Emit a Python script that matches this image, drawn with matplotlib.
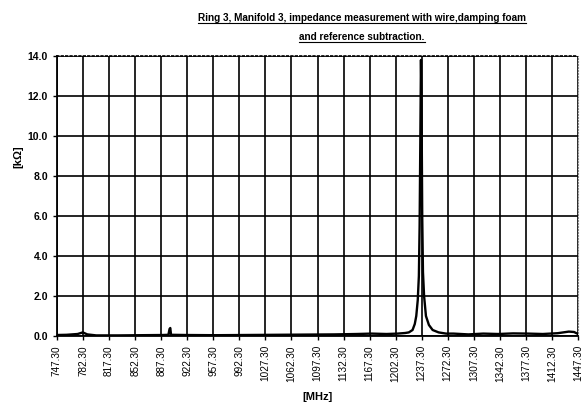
# Ring 3 / Manifold 3 impedance measurement - recreated chart

import matplotlib.pyplot as plt
from matplotlib.lines import Line2D
import numpy as np

# ----------------------------------------------------------------------
# Data
# ----------------------------------------------------------------------

freq_mhz = [747.3, 760.0, 775.0, 782.0, 788.0, 800.0, 830.0, 860.0, 890.0,
            897.0, 898.5, 899.5, 900.5, 920.0, 960.0, 1000.0, 1040.0,
            1080.0, 1120.0, 1150.0, 1170.0, 1190.0, 1205.0, 1215.0,
            1220.0, 1225.0, 1228.0, 1230.0, 1232.0, 1233.5, 1234.5,
            1235.5, 1236.3, 1237.0, 1238.0, 1239.0, 1240.5, 1243.0,
            1247.0, 1252.0, 1260.0, 1270.0, 1280.0, 1300.0, 1320.0,
            1340.0, 1360.0, 1380.0, 1400.0, 1420.0, 1435.0, 1442.0, 1447.3]
impedance_kohm = [0.05, 0.06, 0.10, 0.18, 0.08, 0.03, 0.03, 0.04, 0.05,
                  0.06, 0.35, 0.40, 0.06, 0.05, 0.04, 0.05, 0.06,
                  0.07, 0.08, 0.10, 0.12, 0.10, 0.12, 0.15,
                  0.18, 0.30, 0.60, 1.00, 1.80, 3.00, 5.50,
                  10.0, 13.8, 12.0, 6.00, 3.20, 2.00, 1.00,
                  0.55, 0.30, 0.18, 0.12, 0.12, 0.08, 0.12,
                  0.10, 0.13, 0.12, 0.10, 0.14, 0.22, 0.20, 0.10]

x_ticks = [747.3 + 35 * i for i in range(21)]
y_ticks = [0, 2, 4, 6, 8, 10, 12, 14]

title_lines = ["Ring 3, Manifold 3, impedance measurement with wire,damping foam",
               "and reference subtraction."]

# ----------------------------------------------------------------------
# Plot
# ----------------------------------------------------------------------

plt.rcParams['font.family'] = ['Liberation Sans Narrow', 'Liberation Sans', 'DejaVu Sans']

fig = plt.figure(figsize=(5.87, 4.16), dpi=100)
ax = fig.add_axes([57 / 587, 80 / 416, 521 / 587, 280 / 416])

ax.plot(freq_mhz, impedance_kohm, color='black', linewidth=1.7, zorder=3)

ax.set_xlim(747.3, 1447.3)
ax.set_ylim(0, 14)
ax.set_xticks(x_ticks)
ax.set_xticklabels(['%.2f' % t for t in x_ticks], rotation=90,
                   family=['Liberation Sans', 'DejaVu Sans'], fontsize=7.2)
ax.set_yticks(y_ticks)
ax.set_yticklabels(['%.1f' % t for t in y_ticks], fontweight='bold', fontsize=7.5)
ax.tick_params(axis='both', length=3, width=1, color='black')

ax.grid(True, color='black', linewidth=1.2, linestyle='-', zorder=1)
ax.set_axisbelow(True)

# Borders: solid left / bottom, dotted top / right
ax.spines['left'].set_linewidth(1.3)
ax.spines['bottom'].set_linewidth(1.3)
ax.spines['top'].set_linestyle(':')
ax.spines['top'].set_linewidth(1.2)
ax.spines['right'].set_linestyle(':')
ax.spines['right'].set_color('#888888')

ax.set_xlabel('[MHz]', fontsize=8, fontweight='bold')
ax.xaxis.set_label_coords(0.5, -0.20)
ax.set_ylabel('[kΩ]', fontsize=8, fontweight='bold',
              family=['Liberation Sans', 'DejaVu Sans'])
ax.yaxis.set_label_coords(-0.065, 0.64)

# Two-line underlined title
title_y = [0.950, 0.905]
texts = []
for line, ty in zip(title_lines, title_y):
    texts.append(fig.text(362 / 587, ty, line, ha='center', va='baseline',
                          fontsize=7.2, fontweight='bold'))

fig.canvas.draw()
renderer = fig.canvas.get_renderer()
for t in texts:
    bb = t.get_window_extent(renderer).transformed(fig.transFigure.inverted())
    y0 = t.get_position()[1] - 0.006
    fig.add_artist(Line2D([bb.x0, bb.x1], [y0, y0], color='black',
                          linewidth=0.8, transform=fig.transFigure))

plt.savefig('out.png', dpi=100)
